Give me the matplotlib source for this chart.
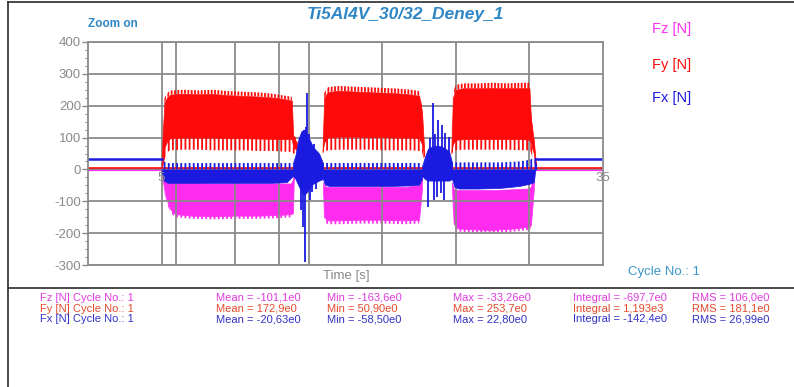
import numpy as np
import matplotlib
matplotlib.use('Agg')
import matplotlib.pyplot as plt
from matplotlib.lines import Line2D

W, H = 794, 387

# axis layout
y_ticks = [400, 300, 200, 100, 0, -100, -200, -300]
x_grid = [5, 6, 10, 13, 15, 20, 25, 30]
x_labels = [5, 35]

# idle levels outside the cutting passes
fz_idle = -1
fy_idle = 3
fx_idle = 32
fx_idle_spans = [(0, 5.0), (30.45, 35)]

# Fy envelope per pass: tooth tips / solid lower edge / solid upper edge / peaks
fy_t = [[5.0, 5.08, 5.2, 5.4, 5.6, 6.5, 7.5, 8.5, 9.5, 10.5, 11.5, 12.5, 13.3, 13.85, 13.95, 14.2],
        [15.95, 16.05, 16.3, 17.0, 18.0, 19.0, 20.0, 21.0, 22.0, 22.5, 22.7, 22.85],
        [24.7, 24.8, 25.0, 25.5, 26.5, 27.5, 28.5, 29.5, 30.0, 30.1, 30.3, 30.45]]
fy_peak = [[5, 130, 225, 240, 248, 250, 248, 250, 246, 244, 242, 238, 232, 228, 110, 95],
           [90, 240, 258, 262, 260, 258, 256, 254, 250, 246, 200, 70],
           [80, 240, 265, 270, 270, 272, 270, 272, 272, 180, 100, 20]]
fy_top = [[5, 118, 210, 228, 235, 238, 236, 237, 233, 231, 229, 226, 221, 216, 100, 85],
          [80, 225, 243, 247, 245, 243, 241, 239, 235, 231, 180, 60],
          [70, 225, 250, 255, 255, 256, 255, 256, 255, 160, 90, 15]]
fy_bot = [[5, 20, 70, 90, 98, 100, 100, 100, 98, 98, 97, 96, 95, 95, 70, 60],
          [60, 85, 100, 103, 103, 102, 102, 100, 100, 98, 80, 40],
          [55, 80, 93, 95, 95, 95, 95, 95, 93, 80, 50, 8]]
fy_tooth = [[5, 0, 30, 55, 60, 62, 62, 60, 60, 60, 58, 58, 56, 55, 50, 50],
            [50, 55, 60, 62, 62, 62, 60, 60, 60, 58, 55, 30],
            [45, 55, 60, 62, 62, 62, 62, 60, 60, 55, 20, 5]]

# Fz envelope per pass
fz_t = [[5.0, 5.1, 5.3, 5.6, 5.9, 7.0, 8.5, 10.0, 11.5, 13.0, 13.8, 13.93, 14.0],
        [15.97, 16.05, 16.3, 17.0, 18.5, 20.0, 21.5, 22.5, 22.7],
        [24.74, 24.85, 25.1, 26.0, 27.5, 29.0, 29.9, 30.1, 30.3]]
fz_top = [[0, -20, -40, -42, -42, -42, -44, -44, -44, -44, -44, -30, 0],
          [-40, -52, -55, -55, -55, -55, -55, -50, -30],
          [-40, -62, -65, -65, -65, -62, -60, -55, -10]]
fz_bot = [[0, -40, -90, -125, -140, -145, -147, -145, -145, -143, -140, -137, 0],
          [-60, -150, -160, -160, -158, -158, -160, -158, -60],
          [-60, -170, -185, -188, -190, -185, -180, -175, -60]]
fz_tooth = [[0, -45, -100, -135, -150, -155, -157, -155, -155, -153, -150, -145, 0],
            [-70, -165, -172, -172, -170, -170, -172, -170, -60],
            [-70, -180, -195, -198, -200, -195, -190, -185, -60]]

# Fx envelope per pass
fx_t = [[5.0, 5.15, 5.4, 6.5, 8.0, 9.5, 11.0, 12.5, 13.5, 13.93],
        [15.97, 16.1, 16.4, 17.5, 19.0, 20.5, 22.0, 22.5, 22.7],
        [24.74, 24.9, 25.2, 26.5, 28.0, 29.3, 30.0, 30.3, 30.45]]
fx_tooth = [[20, 25, 20, 20, 20, 20, 20, 20, 20, 20],
            [20, 20, 20, 20, 20, 20, 20, 20, 20],
            [20, 22, 22, 22, 22, 25, 30, 36, 36]]
fx_bot = [[0, -35, -42, -42, -42, -42, -42, -42, -40, -20],
          [-30, -48, -52, -52, -52, -52, -50, -48, -30],
          [-30, -55, -60, -60, -58, -52, -45, -40, 20]]

# Fx chatter between passes
fx_burst_t = [[13.93, 14.1, 14.3, 14.5, 14.7, 14.9, 15.1, 15.3, 15.5, 15.7, 15.97],
              [22.7, 22.9, 23.1, 23.4, 23.7, 24.0, 24.3, 24.55, 24.75]]
fx_burst_hi = [[20, 45, 95, 120, 125, 110, 90, 70, 60, 50, 20],
               [10, 40, 65, 72, 75, 72, 65, 55, 20]]
fx_burst_lo = [[-20, -30, -50, -70, -80, -70, -55, -45, -40, -35, -30],
               [-20, -30, -35, -35, -35, -35, -35, -35, -30]]
fx_spike_t = [14.41, 14.48, 14.61, 14.68, 14.75, 14.82, 14.88, 15.02, 15.09, 15.22, 15.36, 15.5,
              23.1, 23.25, 23.45, 23.52, 23.6, 23.72, 23.79, 24.0, 24.06, 24.2, 24.26, 24.53]
fx_spike_v = [100, -127, -180, 125, -290, 134, 240, 110, -95, -70, 80, -60,
              -117, 100, 209, -95, 110, -88, 155, -74, 140, -95, 115, 103]

# statistics panel
stat_names = ['Fz [N] Cycle No.: 1', 'Fy [N] Cycle No.: 1', 'Fx [N] Cycle No.: 1']
stat_mean = [-101.1, 172.9, -20.63]
stat_min = [-163.6, 50.90, -58.50]
stat_max = [-33.26, 253.7, 22.80]
stat_integral = [-697.7, 1193, -142.4]
stat_rms = [106.0, 181.1, 26.99]

FZ_COL = '#ff2cf0'
FY_COL = '#ff0a0a'
FX_COL = '#1a1ae0'
TXT_FZ = '#e03ce0'
TXT_FY = '#e24a2c'
TXT_FX = '#3232c8'
GREY = '#8a8a8a'
CAPTION = '#2f86c4'

plt.rcParams['font.family'] = ['Liberation Sans', 'DejaVu Sans']
plt.rcParams['hatch.linewidth'] = 1.3
plt.rcParams['axes.unicode_minus'] = False


def fx(px):
    return px / W


def fy(py):
    return 1 - py / H


def eng(v):
    # 4 significant digits, engineering exponent, comma decimal
    e = int(np.floor(np.log10(abs(v)) / 3) * 3)
    m = v / 10 ** e
    dec = 4 - len(str(int(abs(m))))
    return f"{m:.{dec}f}".replace('.', ',') + f"e{e}"


def band(ax, t, lo, hi, color, z, hatch=None):
    if hatch:
        ax.fill_between(t, lo, hi, facecolor='none', edgecolor=color,
                        hatch=hatch, linewidth=0, zorder=z)
    else:
        ax.fill_between(t, lo, hi, color=color, linewidth=0.5, zorder=z)


fig = plt.figure(figsize=(W / 100, H / 100), dpi=100)
ax = fig.add_axes([fx(88), fy(265), fx(603) - fx(88), fy(42) - fy(265)])

# idle lines
ax.plot([0, 35], [fz_idle, fz_idle], color=FZ_COL, lw=1.6, zorder=2)
ax.plot([0, 35], [fy_idle, fy_idle], color=FY_COL, lw=1.2, zorder=3)
for a, b in fx_idle_spans:
    ax.plot([a, b], [fx_idle, fx_idle], color=FX_COL, lw=1.8, zorder=4)

# Fz
for t, top, bot, tooth in zip(fz_t, fz_top, fz_bot, fz_tooth):
    band(ax, t, bot, top, FZ_COL, 2)
    band(ax, t, tooth, bot, FZ_COL, 2, hatch='||||')

# Fy
for t, peak, top, bot, tooth in zip(fy_t, fy_peak, fy_top, fy_bot, fy_tooth):
    band(ax, t, bot, top, FY_COL, 3)
    band(ax, t, top, peak, FY_COL, 3, hatch='|||||')
    band(ax, t, tooth, bot, FY_COL, 3, hatch='||||')

# Fx
for t, tooth, bot in zip(fx_t, fx_tooth, fx_bot):
    band(ax, t, bot, np.zeros(len(t)), FX_COL, 4)
    band(ax, t, np.zeros(len(t)), tooth, FX_COL, 4, hatch='||||')
for t, hi, lo in zip(fx_burst_t, fx_burst_hi, fx_burst_lo):
    band(ax, t, lo, hi, FX_COL, 5)
ax.vlines(fx_spike_t, 0, fx_spike_v, color=FX_COL, lw=1.3, zorder=5)

ax.set_xlim(0, 35)
ax.set_ylim(-300, 400)
ax.set_yticks(y_ticks)
ax.set_yticks(np.arange(-300, 401, 25), minor=True)
ax.set_xticks(x_grid)
ax.set_xticklabels([])
ax.tick_params(axis='x', length=0)
ax.tick_params(axis='y', which='major', length=4, width=1, color=GREY,
               labelcolor=GREY, labelsize=9.5, pad=1)
ax.tick_params(axis='y', which='minor', length=2, width=0.8, color=GREY)
ax.grid(True, color=GREY, lw=1.3, zorder=6)
ax.set_axisbelow(False)
for s in ax.spines.values():
    s.set_color(GREY)
    s.set_linewidth(1.3)
    s.set_zorder(6)

for v in x_labels:
    ax.annotate(f"{v}", (v, 0), xytext=(0, -2), textcoords='offset points',
                ha='center', va='top', color=GREY, fontsize=9.5, zorder=7)

# captions
fig.text(fx(405), fy(14), 'Ti5Al4V_30/32_Deney_1', ha='center', va='center',
         color=CAPTION, fontsize=12.5, fontweight='bold', style='italic')
fig.text(fx(88), fy(24), 'Zoom on', ha='left', va='center', color=CAPTION,
         fontsize=8.5, fontweight='bold')
fig.text(fx(346), fy(276), 'Time [s]', ha='center', va='center', color=GREY, fontsize=9.5)
fig.text(fx(628), fy(272), 'Cycle No.: 1', ha='left', va='center', color='#3c96c8', fontsize=9.5)
for label, col, py in [('Fz [N]', FZ_COL, 29), ('Fy [N]', FY_COL, 65), ('Fx [N]', FX_COL, 98)]:
    fig.text(fx(652), fy(py), label, ha='left', va='center', color=col, fontsize=10.5)

# frame and separator
for xs, ys in [([8, W], [2, 2]), ([8, 8], [2, H]), ([8, W], [288, 288])]:
    fig.add_artist(Line2D([fx(x) for x in xs], [fy(y) for y in ys],
                          color='#3a3a3a', lw=1.3))

# statistics rows
cols_x = [40, 216, 327, 453, 573, 692]
for i, col in enumerate([TXT_FZ, TXT_FY, TXT_FX]):
    py = 298 + i * 10.7
    cells = [stat_names[i],
             'Mean = ' + eng(stat_mean[i]),
             'Min = ' + eng(stat_min[i]),
             'Max = ' + eng(stat_max[i]),
             'Integral = ' + eng(stat_integral[i]),
             'RMS = ' + eng(stat_rms[i])]
    for x, s in zip(cols_x, cells):
        fig.text(fx(x), fy(py), s, ha='left', va='center', color=col, fontsize=8)

fig.savefig('out.png', dpi=100)
